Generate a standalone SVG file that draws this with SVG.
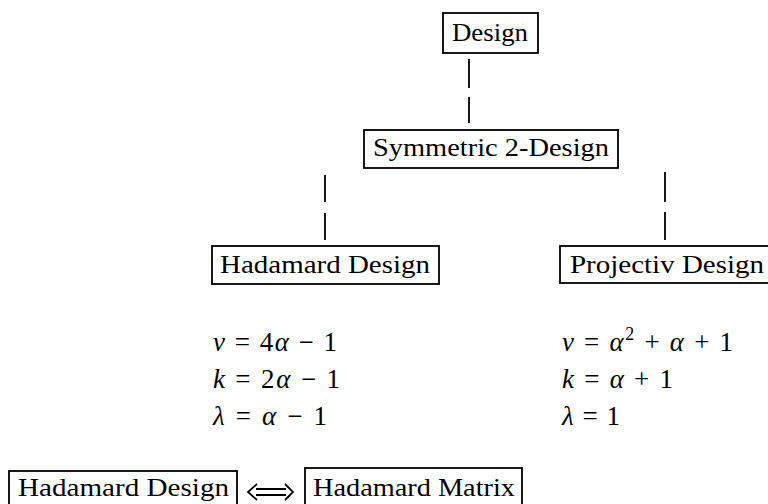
<svg xmlns="http://www.w3.org/2000/svg" width="768" height="504" viewBox="0 0 768 504">
<style>
.box{fill:#fff;stroke:#000;stroke-width:1.8}
.lbl{font-family:"Liberation Serif","DejaVu Serif",serif;font-size:26px;fill:#000}
.eq{font-family:"Liberation Serif","DejaVu Serif",serif;font-size:27px;fill:#000}
.v{font-style:italic}
.con{stroke:#000;stroke-width:1.8;fill:none}
</style>
<rect width="768" height="504" fill="#fff"/>
<g id="connectors">
<path class="con" d="M469,59V88M469,97V123"/>
<path class="con" d="M325,175V202M325,213V240"/>
<path class="con" d="M665,172V202M665,212V240"/>
<path class="con" d="M256,489H286M256,495H286M257,484L248,492L257,500M285,484L293,492L285,500"/>
</g>
<g id="design">
<rect class="box" x="443" y="13" width="95" height="40"/>
<text class="lbl" x="452" y="41" textLength="76" lengthAdjust="spacingAndGlyphs">Design</text>
</g>
<g id="symmetric">
<rect class="box" x="364" y="130" width="254" height="38"/>
<text class="lbl" x="373" y="156" textLength="236" lengthAdjust="spacingAndGlyphs">Symmetric 2-Design</text>
</g>
<g id="hadamard">
<rect class="box" x="212" y="246" width="227" height="38"/>
<text class="lbl" x="220" y="273" textLength="210" lengthAdjust="spacingAndGlyphs">Hadamard Design</text>
</g>
<g id="projectiv">
<rect class="box" x="560" y="246" width="220" height="37"/>
<text class="lbl" x="570" y="273" textLength="194" lengthAdjust="spacingAndGlyphs">Projectiv Design</text>
</g>
<g id="hadamard-params">
<text class="eq" x="213" y="351" textLength="124" lengthAdjust="spacing"><tspan class="v">v</tspan> = 4<tspan class="v">α</tspan> − 1</text>
<text class="eq" x="213" y="388" textLength="127" lengthAdjust="spacing"><tspan class="v">k</tspan> = 2<tspan class="v">α</tspan> − 1</text>
<text class="eq" x="213" y="425" textLength="114" lengthAdjust="spacing"><tspan class="v">λ</tspan> = <tspan class="v">α</tspan> − 1</text>
</g>
<g id="projectiv-params">
<text class="eq" x="562" y="351" textLength="171" lengthAdjust="spacing"><tspan class="v">v</tspan> = <tspan class="v">α</tspan><tspan font-size="18" dy="-11">2</tspan><tspan dy="11"> + </tspan><tspan class="v">α</tspan> + 1</text>
<text class="eq" x="562" y="388" textLength="111" lengthAdjust="spacing"><tspan class="v">k</tspan> = <tspan class="v">α</tspan> + 1</text>
<text class="eq" x="562" y="425" textLength="58" lengthAdjust="spacing"><tspan class="v">λ</tspan> = 1</text>
</g>
<g id="hadamard-design-2">
<rect class="box" x="9" y="471" width="228" height="40"/>
<text class="lbl" x="18" y="496" textLength="211" lengthAdjust="spacingAndGlyphs">Hadamard Design</text>
</g>
<g id="hadamard-matrix">
<rect class="box" x="305" y="468" width="217" height="43"/>
<text class="lbl" x="313" y="496" textLength="202" lengthAdjust="spacingAndGlyphs">Hadamard Matrix</text>
</g>
</svg>
